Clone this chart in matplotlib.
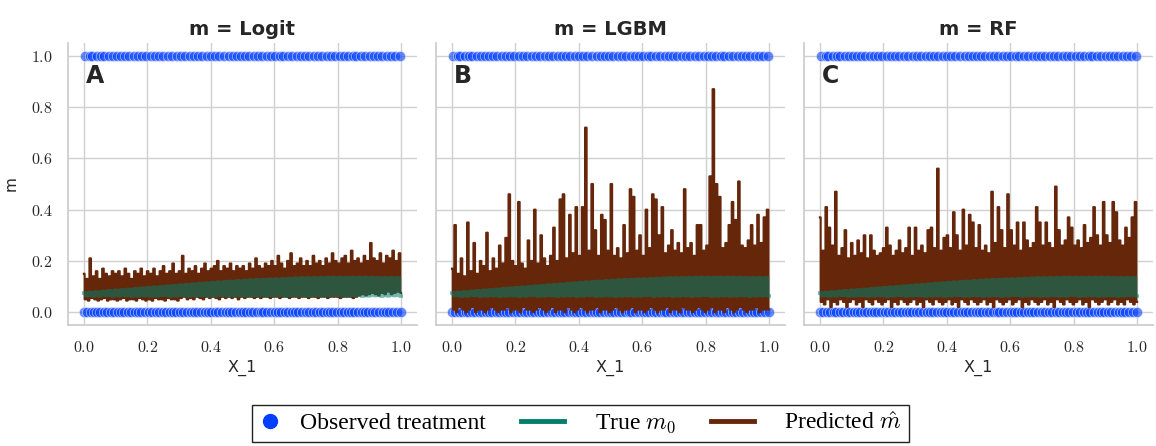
import numpy as np
import matplotlib
matplotlib.use("Agg")
import matplotlib.pyplot as plt
from matplotlib.lines import Line2D
from matplotlib.legend_handler import HandlerLine2D
from matplotlib.ticker import FormatStrFormatter

# ---------------- data ----------------
models = ["Logit", "LGBM", "RF"]
panel_letters = ["A", "B", "C"]

# observed treatment: x positions of units with D=1 and D=0
treated_x = [0.004, 0.018, 0.027, 0.041, 0.055, 0.063, 0.078, 0.091, 0.104, 0.117,
             0.129, 0.142, 0.158, 0.171, 0.183, 0.196, 0.212, 0.224, 0.238, 0.251,
             0.266, 0.279, 0.293, 0.305, 0.318, 0.334, 0.347, 0.361, 0.373, 0.388,
             0.402, 0.414, 0.427, 0.441, 0.456, 0.469, 0.482, 0.494, 0.509, 0.522,
             0.536, 0.548, 0.563, 0.577, 0.589, 0.602, 0.617, 0.629, 0.644, 0.657,
             0.671, 0.684, 0.697, 0.711, 0.726, 0.738, 0.752, 0.766, 0.779, 0.793,
             0.806, 0.819, 0.833, 0.847, 0.859, 0.874, 0.887, 0.901, 0.914, 0.928,
             0.941, 0.955, 0.968, 0.981, 0.996]
untreated_x = [0.001, 0.011, 0.022, 0.031, 0.043, 0.052, 0.064, 0.073, 0.086, 0.095,
               0.107, 0.118, 0.127, 0.139, 0.148, 0.161, 0.172, 0.181, 0.193, 0.204,
               0.216, 0.227, 0.236, 0.248, 0.259, 0.271, 0.282, 0.291, 0.303, 0.314,
               0.326, 0.337, 0.346, 0.358, 0.369, 0.381, 0.392, 0.401, 0.413, 0.424,
               0.436, 0.447, 0.456, 0.468, 0.479, 0.491, 0.502, 0.511, 0.523, 0.534,
               0.546, 0.557, 0.566, 0.578, 0.589, 0.601, 0.612, 0.621, 0.633, 0.644,
               0.656, 0.667, 0.676, 0.688, 0.699, 0.711, 0.722, 0.731, 0.743, 0.754,
               0.766, 0.777, 0.786, 0.798, 0.809, 0.821, 0.832, 0.841, 0.853, 0.864,
               0.876, 0.887, 0.896, 0.908, 0.919, 0.931, 0.942, 0.951, 0.963, 0.974,
               0.986, 0.999]

# true propensity m0 (same in every panel): upper / lower envelope of the dense line
true_m0_hi = [0.075, 0.077, 0.079, 0.081, 0.083, 0.085, 0.087, 0.089, 0.091, 0.093,
              0.095, 0.097, 0.099, 0.101, 0.103, 0.105, 0.107, 0.109, 0.111, 0.113,
              0.115, 0.117, 0.119, 0.120, 0.122, 0.123, 0.125, 0.126, 0.127, 0.128,
              0.129, 0.130, 0.131, 0.132, 0.133, 0.133, 0.134, 0.134, 0.135, 0.135,
              0.135, 0.135, 0.135, 0.135, 0.135, 0.135, 0.134, 0.134, 0.134, 0.134]
true_m0_lo = [0.065, 0.063, 0.064, 0.066, 0.063, 0.064, 0.065, 0.063, 0.064, 0.065,
              0.063, 0.064, 0.066, 0.063, 0.064, 0.065, 0.063, 0.064, 0.065, 0.063,
              0.064, 0.066, 0.063, 0.064, 0.065, 0.063, 0.064, 0.065, 0.063, 0.064,
              0.066, 0.063, 0.064, 0.065, 0.063, 0.064, 0.065, 0.063, 0.064, 0.066,
              0.063, 0.064, 0.065, 0.063, 0.064, 0.065, 0.063, 0.064, 0.065, 0.063]

# predicted m-hat: upper / lower envelope of the dense line, per learner
logit_hi = [0.15, 0.13, 0.21, 0.14, 0.16, 0.13, 0.17, 0.15, 0.14, 0.16,
            0.15, 0.16, 0.14, 0.17, 0.15, 0.13, 0.16, 0.15, 0.17, 0.14,
            0.16, 0.15, 0.17, 0.14, 0.16, 0.18, 0.15, 0.16, 0.19, 0.15,
            0.16, 0.22, 0.15, 0.17, 0.16, 0.18, 0.15, 0.17, 0.19, 0.16,
            0.17, 0.18, 0.20, 0.16, 0.18, 0.17, 0.19, 0.16, 0.18, 0.17,
            0.18, 0.16, 0.19, 0.17, 0.21, 0.18, 0.17, 0.19, 0.18, 0.20,
            0.18, 0.22, 0.19, 0.17, 0.20, 0.23, 0.18, 0.19, 0.21, 0.18,
            0.20, 0.18, 0.22, 0.19, 0.20, 0.18, 0.21, 0.19, 0.23, 0.20,
            0.19, 0.21, 0.22, 0.19, 0.24, 0.20, 0.21, 0.19, 0.22, 0.20,
            0.27, 0.21, 0.20, 0.23, 0.19, 0.22, 0.21, 0.24, 0.20, 0.23]
logit_lo = [0.05, 0.045, 0.055, 0.05, 0.045, 0.05, 0.055, 0.045, 0.05, 0.05,
            0.045, 0.05, 0.055, 0.045, 0.05, 0.05, 0.045, 0.055, 0.05, 0.045,
            0.05, 0.045, 0.055, 0.05, 0.05, 0.045, 0.055, 0.05, 0.05, 0.045,
            0.055, 0.06, 0.05, 0.055, 0.05, 0.06, 0.055, 0.05, 0.06, 0.055,
            0.06, 0.055, 0.05, 0.06, 0.055, 0.06, 0.055, 0.06, 0.05, 0.06,
            0.055, 0.06, 0.06, 0.055, 0.06, 0.055, 0.06, 0.06, 0.055, 0.06,
            0.06, 0.055, 0.06, 0.06, 0.055, 0.06, 0.06, 0.055, 0.06, 0.06,
            0.055, 0.06, 0.06, 0.055, 0.06, 0.06, 0.055, 0.06, 0.06, 0.06,
            0.055, 0.06, 0.06, 0.06, 0.055, 0.06, 0.065, 0.07, 0.065, 0.07,
            0.075, 0.07, 0.065, 0.075, 0.07, 0.08, 0.07, 0.075, 0.08, 0.075]
lgbm_hi = [0.17, 0.34, 0.15, 0.21, 0.14, 0.35, 0.16, 0.27, 0.15, 0.20,
           0.18, 0.31, 0.16, 0.21, 0.17, 0.26, 0.19, 0.29, 0.46, 0.20,
           0.18, 0.43, 0.19, 0.17, 0.28, 0.20, 0.40, 0.19, 0.30, 0.21,
           0.18, 0.22, 0.33, 0.20, 0.44, 0.46, 0.21, 0.38, 0.23, 0.41,
           0.22, 0.41, 0.72, 0.24, 0.50, 0.32, 0.22, 0.38, 0.36, 0.24,
           0.50, 0.22, 0.25, 0.21, 0.34, 0.23, 0.48, 0.45, 0.24, 0.30,
           0.22, 0.40, 0.25, 0.46, 0.44, 0.30, 0.41, 0.23, 0.26, 0.32,
           0.24, 0.27, 0.23, 0.48, 0.25, 0.27, 0.22, 0.34, 0.34, 0.24,
           0.26, 0.53, 0.87, 0.50, 0.45, 0.25, 0.27, 0.34, 0.43, 0.36,
           0.51, 0.26, 0.25, 0.28, 0.34, 0.26, 0.38, 0.27, 0.37, 0.40]
lgbm_lo = [0.01, 0.00, 0.02, 0.01, 0.00, 0.01, 0.02, 0.00, 0.01, 0.01,
           0.00, 0.01, 0.02, 0.01, 0.00, 0.01, 0.01, 0.02, 0.00, 0.01,
           0.01, 0.00, 0.02, 0.01, 0.01, 0.00, 0.01, 0.02, 0.01, 0.00,
           0.01, 0.02, 0.00, 0.01, 0.01, 0.00, 0.02, 0.01, 0.00, 0.01,
           0.02, 0.01, 0.00, 0.01, 0.01, 0.02, 0.00, 0.01, 0.01, 0.00,
           0.01, 0.02, 0.01, 0.00, 0.01, 0.01, 0.02, 0.00, 0.01, 0.01,
           0.00, 0.01, 0.02, 0.01, 0.00, 0.01, 0.01, 0.02, 0.00, 0.01,
           0.01, 0.00, 0.02, 0.01, 0.01, 0.00, 0.01, 0.02, 0.01, 0.00,
           0.01, 0.02, 0.00, 0.01, 0.01, 0.00, 0.02, 0.01, 0.00, 0.01,
           0.02, 0.01, 0.00, 0.01, 0.01, 0.02, 0.00, 0.01, 0.01, 0.01]
rf_hi = [0.37, 0.24, 0.41, 0.33, 0.26, 0.47, 0.22, 0.25, 0.32, 0.21,
         0.27, 0.22, 0.28, 0.23, 0.30, 0.21, 0.30, 0.24, 0.22, 0.23,
         0.25, 0.33, 0.26, 0.22, 0.24, 0.28, 0.23, 0.25, 0.33, 0.22,
         0.33, 0.24, 0.26, 0.23, 0.32, 0.33, 0.25, 0.56, 0.24, 0.29,
         0.30, 0.25, 0.39, 0.30, 0.24, 0.40, 0.26, 0.38, 0.35, 0.25,
         0.34, 0.24, 0.26, 0.23, 0.47, 0.27, 0.41, 0.32, 0.25, 0.46,
         0.32, 0.26, 0.35, 0.24, 0.35, 0.28, 0.25, 0.27, 0.41, 0.35,
         0.26, 0.35, 0.27, 0.25, 0.49, 0.32, 0.26, 0.28, 0.37, 0.33,
         0.26, 0.28, 0.25, 0.34, 0.27, 0.29, 0.41, 0.30, 0.26, 0.43,
         0.30, 0.27, 0.43, 0.39, 0.28, 0.26, 0.33, 0.29, 0.37, 0.43]
rf_lo = [0.04, 0.03, 0.05, 0.02, 0.04, 0.03, 0.05, 0.04, 0.02, 0.04,
         0.05, 0.03, 0.04, 0.02, 0.05, 0.04, 0.03, 0.05, 0.04, 0.03,
         0.04, 0.05, 0.02, 0.04, 0.03, 0.05, 0.04, 0.03, 0.04, 0.05,
         0.03, 0.04, 0.02, 0.05, 0.04, 0.03, 0.05, 0.04, 0.03, 0.04,
         0.05, 0.03, 0.04, 0.02, 0.05, 0.04, 0.03, 0.05, 0.04, 0.03,
         0.04, 0.05, 0.03, 0.04, 0.02, 0.05, 0.04, 0.03, 0.04, 0.05,
         0.03, 0.04, 0.05, 0.02, 0.04, 0.03, 0.05, 0.04, 0.03, 0.04,
         0.05, 0.03, 0.04, 0.02, 0.05, 0.04, 0.03, 0.05, 0.04, 0.03,
         0.04, 0.05, 0.03, 0.04, 0.02, 0.05, 0.04, 0.03, 0.04, 0.05,
         0.03, 0.04, 0.05, 0.03, 0.04, 0.03, 0.05, 0.04, 0.03, 0.04]
pred_hi = [logit_hi, lgbm_hi, rf_hi]
pred_lo = [logit_lo, lgbm_lo, rf_lo]

# ---------------- style ----------------
plt.rcParams["mathtext.fontset"] = "cm"
plt.rcParams["font.family"] = ["DejaVu Sans"]
plt.rcParams["path.simplify"] = False
C_BLUE = "#023eff"
C_TEAL = "#007f6a"
C_BROWN = "#66260a"
C_GRID = "#d0d0d0"
C_TEXT = "#262626"


def zigzag(hi, lo):
    hi = np.asarray(hi, float)
    lo = np.asarray(lo, float)
    y = np.empty(2 * len(hi))
    y[0::2] = hi
    y[1::2] = lo
    x = np.linspace(0.0, 1.0, len(y))
    return x, y


class WideLineHandler(HandlerLine2D):
    """Line legend handle that extends further left than the handle box."""
    def get_xdata(self, legend, xdescent, ydescent, width, height, fontsize):
        xd = np.array([-xdescent - 1.38 * fontsize, -xdescent + 0.44 * fontsize])
        return xd, np.array([-xdescent + 0.5 * width])


fig = plt.figure(figsize=(11.56, 4.46), dpi=100)
lefts = [0.0588, 0.3772, 0.6955]
for k, (model, letter) in enumerate(zip(models, panel_letters)):
    ax = fig.add_axes([lefts[k], 0.2713, 0.3019, 0.6323])
    ax.set_facecolor("white")
    ax.grid(True, color=C_GRID, linewidth=1.0, zorder=0)
    ax.set_axisbelow(True)
    for s in ["top", "right"]:
        ax.spines[s].set_visible(False)
    for s in ["left", "bottom"]:
        ax.spines[s].set_color("#cccccc")
        ax.spines[s].set_linewidth(1.25)

    ax.scatter(treated_x, np.ones(len(treated_x)), s=55, color=C_BLUE,
               alpha=0.6, edgecolors="white", linewidths=0.5, zorder=2)
    ax.scatter(untreated_x, np.zeros(len(untreated_x)), s=55, color=C_BLUE,
               alpha=0.6, edgecolors="white", linewidths=0.5, zorder=2)

    px, py = zigzag(pred_hi[k], pred_lo[k])
    ax.plot(px, py, color=C_BROWN, linewidth=1.5, drawstyle="steps-mid",
            snap=False, zorder=3)
    gx, gy = zigzag(true_m0_hi, true_m0_lo)
    ax.plot(gx, gy, color=C_TEAL, linewidth=2.6, alpha=0.55, drawstyle="steps-mid",
            snap=False, zorder=4)

    ax.set_xlim(-0.05, 1.05)
    ax.set_ylim(-0.05, 1.05)
    ax.set_xticks([0.0, 0.2, 0.4, 0.6, 0.8, 1.0])
    ax.set_yticks([0.0, 0.2, 0.4, 0.6, 0.8, 1.0])
    ax.xaxis.set_major_formatter(FormatStrFormatter("$%.1f$"))
    ax.yaxis.set_major_formatter(FormatStrFormatter("$%.1f$"))
    ax.tick_params(axis="both", length=0, pad=11, labelsize=11.5, labelcolor=C_TEXT)
    if k > 0:
        ax.tick_params(axis="y", labelleft=False)
    else:
        ax.set_ylabel("m", fontsize=11, color=C_TEXT)
        ax.yaxis.set_label_coords(-0.14, 0.5)
    ax.set_xlabel("X_1", fontsize=11.5, color=C_TEXT, labelpad=3)
    ax.set_title(f"m = {model}", fontsize=14, fontweight="bold", color=C_TEXT, pad=6)
    ax.text(0.052, 0.925, letter, transform=ax.transAxes, fontsize=17,
            fontweight="bold", color=C_TEXT, ha="left", va="top", zorder=6)

handles = [
    Line2D([], [], marker="o", linestyle="none", markersize=10, color=C_BLUE,
           markeredgecolor=C_BLUE),
    Line2D([], [], color=C_TEAL, linewidth=3.5),
    Line2D([], [], color=C_BROWN, linewidth=3.5),
]
labels = ["Observed treatment", r"True $m_0$", r"Predicted $\hat{m}$"]
leg = fig.legend(handles, labels, loc="upper center", bbox_to_anchor=(0.502, 0.092),
                 ncol=3, frameon=True, fancybox=False, framealpha=1.0,
                 edgecolor="#222222", handlelength=0.9, handletextpad=0.82,
                 columnspacing=2.9, borderpad=0.3, borderaxespad=0.0,
                 handler_map={handles[1]: WideLineHandler(),
                              handles[2]: WideLineHandler()},
                 prop={"family": ["Liberation Serif"], "size": 17})
leg.get_frame().set_linewidth(1.0)

fig.savefig("out.png", dpi=100)
